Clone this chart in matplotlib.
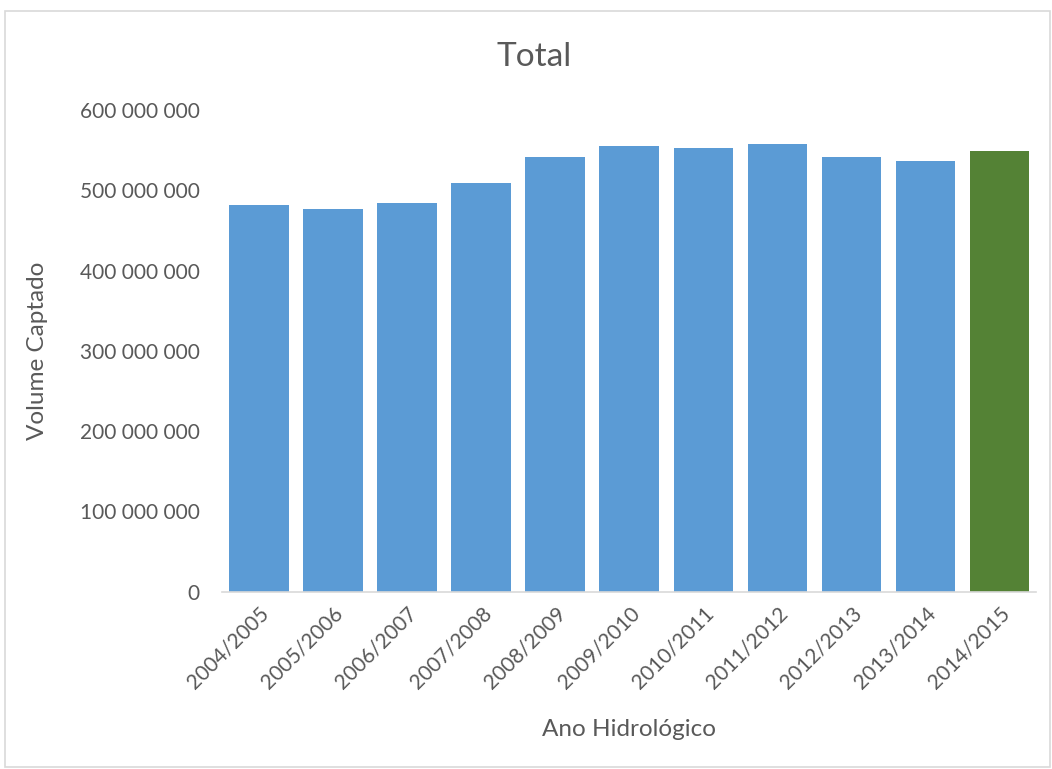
import matplotlib

matplotlib.use("Agg")
import matplotlib.pyplot as plt
from matplotlib.patches import Rectangle
from matplotlib.ticker import FuncFormatter

plt.rcParams["font.family"] = ["Lato", "DejaVu Sans"]

years = [
    "2004/2005", "2005/2006", "2006/2007", "2007/2008", "2008/2009", "2009/2010",
    "2010/2011", "2011/2012", "2012/2013", "2013/2014", "2014/2015",
]
volume = [
    481.7e6, 477.1e6, 483.8e6, 509.1e6, 541.1e6, 555.6e6,
    552.3e6, 557.3e6, 541.1e6, 536.1e6, 549.0e6,
]
highlight = "2014/2015"

BLUE = "#5b9bd5"
GREEN = "#548235"
TEXT = "#595959"

fig = plt.figure(figsize=(10.52, 7.69), dpi=100)
ax = fig.add_axes([0.211, 0.2306, 0.774, 0.6264])

colors = [GREEN if y == highlight else BLUE for y in years]
ax.bar(years, volume, width=0.8, color=colors, edgecolor="none")

ax.set_xlim(-0.5, len(years) - 0.5)
ax.set_ylim(0, 600e6)
ax.set_yticks(range(0, 600_000_001, 100_000_000))
ax.yaxis.set_major_formatter(FuncFormatter(lambda v, _: f"{int(v):,}".replace(",", " ")))

for side in ("top", "right", "left"):
    ax.spines[side].set_visible(False)
ax.spines["bottom"].set_color("#d9d9d9")
ax.spines["bottom"].set_linewidth(1.2)
ax.tick_params(axis="both", length=0, labelsize=15, colors=TEXT)
ax.tick_params(axis="y", pad=16)
ax.tick_params(axis="x", pad=8)
plt.setp(ax.get_xticklabels(), rotation=45, ha="right", rotation_mode="anchor")

ax.set_ylabel("Volume Captado", fontsize=17.5, color=TEXT, labelpad=23)
ax.set_xlabel("Ano Hidrológico", fontsize=17.5, color=TEXT, labelpad=19)
fig.text(0.508, 0.926, "Total", ha="center", va="center", fontsize=24, color=TEXT)

# light chart-area frame
fig.patches.append(Rectangle((0.005, 0.003), 0.993, 0.983, transform=fig.transFigure,
                             fill=False, edgecolor="#d9d9d9", lw=1.2))

fig.savefig("out.png", dpi=100)
